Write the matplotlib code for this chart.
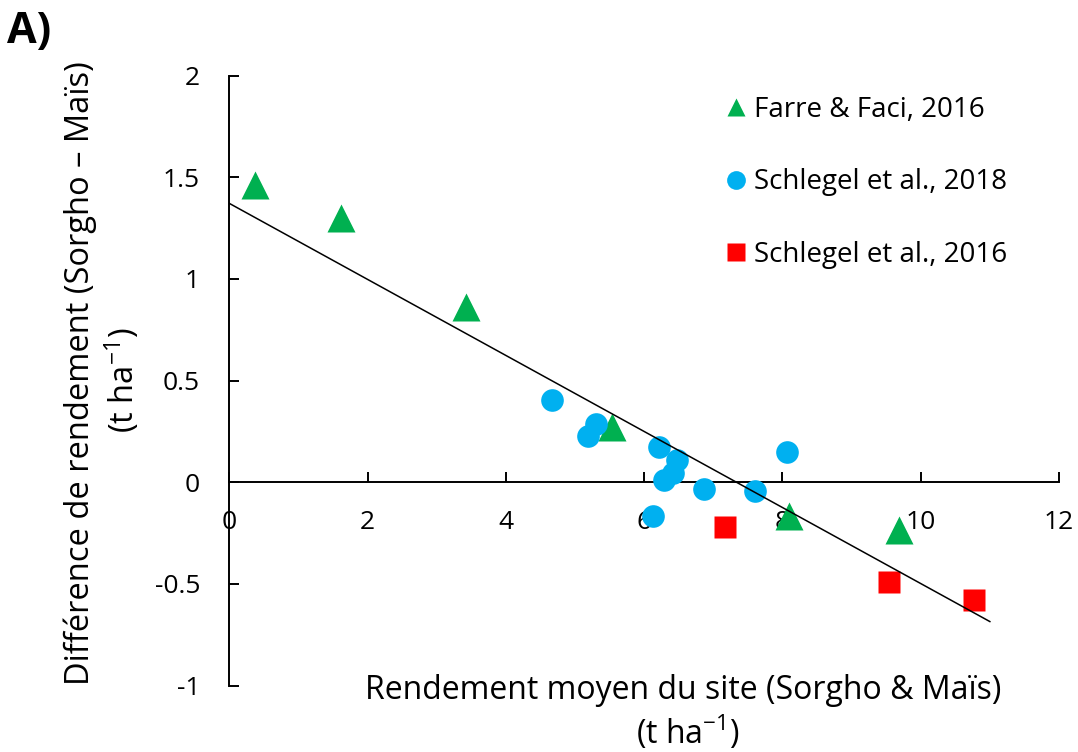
import numpy as np
import matplotlib
matplotlib.use("Agg")
import matplotlib.pyplot as plt

plt.rcParams['font.family'] = ['Open Sans', 'DejaVu Sans']
plt.rcParams['mathtext.fontset'] = 'custom'
plt.rcParams['mathtext.rm'] = 'Open Sans'
plt.rcParams['mathtext.it'] = 'Open Sans:italic'
plt.rcParams['mathtext.bf'] = 'Open Sans:bold'

# Farre & Faci, 2016
farre_x = [0.37, 1.61, 3.42, 5.53, 8.10, 9.68]
farre_y = [1.46, 1.30, 0.86, 0.27, -0.165, -0.235]

# Schlegel et al., 2018
schl18_x = [4.66, 5.19, 5.31, 6.22, 6.48, 6.42, 6.28, 6.87, 7.60, 6.13, 8.06]
schl18_y = [0.405, 0.227, 0.286, 0.175, 0.109, 0.044, 0.011, -0.035, -0.043, -0.165, 0.150]

# Schlegel et al., 2016
schl16_x = [7.17, 9.54, 10.77]
schl16_y = [-0.22, -0.49, -0.58]

# Linear trend (intercept, slope) and its x extent
trend_intercept = 1.372
trend_slope = -0.187
trend_x_range = [0.0, 11.0]

x_ticks = [0, 2, 4, 6, 8, 10, 12]
y_ticks = [-1, -0.5, 0, 0.5, 1, 1.5, 2]
y_tick_labels = ['-1', '-0.5', '0', '0.5', '1', '1.5', '2']

series_labels = ['Farre & Faci, 2016', 'Schlegel et al., 2018', 'Schlegel et al., 2016']

x_label = ['Rendement moyen du site (Sorgho & Maïs)', '(t ha$^{-1}$)']
y_label = ['Différence de rendement (Sorgho – Maïs)', '(t ha$^{-1}$)']

W, H = 1078, 752
fig = plt.figure(figsize=(W / 100, H / 100), dpi=100)
ax = fig.add_axes([229.3 / W, 1 - 685.6 / H, (1059 - 229.3) / W, (685.6 - 75.7) / H])

green = '#00B050'
blue = '#00B0F0'
red = '#FF0000'

l1, = ax.plot(farre_x, farre_y, ls='none', marker='^', ms=19.8, color=green,
              mec='none', label=series_labels[0], clip_on=False, zorder=3)
l2, = ax.plot(schl18_x, schl18_y, ls='none', marker='o', ms=16.3, color=blue,
              mec='none', label=series_labels[1], clip_on=False, zorder=3)
l3, = ax.plot(schl16_x, schl16_y, ls='none', marker='s', ms=15.8, color=red,
              mec='none', label=series_labels[2], clip_on=False, zorder=3)

tx = np.array(trend_x_range)
ax.plot(tx, trend_intercept + trend_slope * tx, color='black', lw=1.1, zorder=4)

ax.set_xlim(0, 12)
ax.set_ylim(-1, 2)
ax.set_xticks(x_ticks)
ax.set_yticks(y_ticks)
ax.set_yticklabels(y_tick_labels)

for s in ['top', 'right']:
    ax.spines[s].set_visible(False)
ax.spines['left'].set_position(('data', 0))
ax.spines['bottom'].set_position(('data', 0))
for s in ['left', 'bottom']:
    ax.spines[s].set_linewidth(1.4)
    ax.spines[s].set_color('black')

ax.tick_params(axis='x', direction='in', length=7, width=1.4, pad=20, labelsize=19)
ax.tick_params(axis='y', direction='in', length=7, width=1.4, pad=21, labelsize=19)
ax.set_facecolor('none')

leg = ax.legend(handles=[l1, l2, l3], loc='upper left',
                bbox_to_anchor=(726 / W, 1 - 96 / H), bbox_transform=fig.transFigure,
                frameon=False, fontsize=20, handlelength=0.72, handletextpad=0.28,
                labelspacing=1.6, borderpad=0, borderaxespad=0, numpoints=1)
for h in leg.legend_handles:
    h.set_markersize(13.5)

# axis titles, two lines each
fig.text(683 / W, 1 - 699 / H, x_label[0], ha='center', va='baseline', fontsize=23)
fig.text(688 / W, 1 - 744 / H, x_label[1], ha='center', va='baseline', fontsize=23)
fig.text(89 / W, 1 - 373 / H, y_label[0], ha='center', va='baseline', fontsize=23.5,
         rotation=90, rotation_mode='anchor')
fig.text(134 / W, 1 - 380 / H, y_label[1], ha='center', va='baseline', fontsize=23.5,
         rotation=90, rotation_mode='anchor')

fig.text(7 / W, 1 - 42.5 / H, 'A)', ha='left', va='baseline', fontsize=31, fontweight='bold')

fig.savefig('out.png', dpi=100)
